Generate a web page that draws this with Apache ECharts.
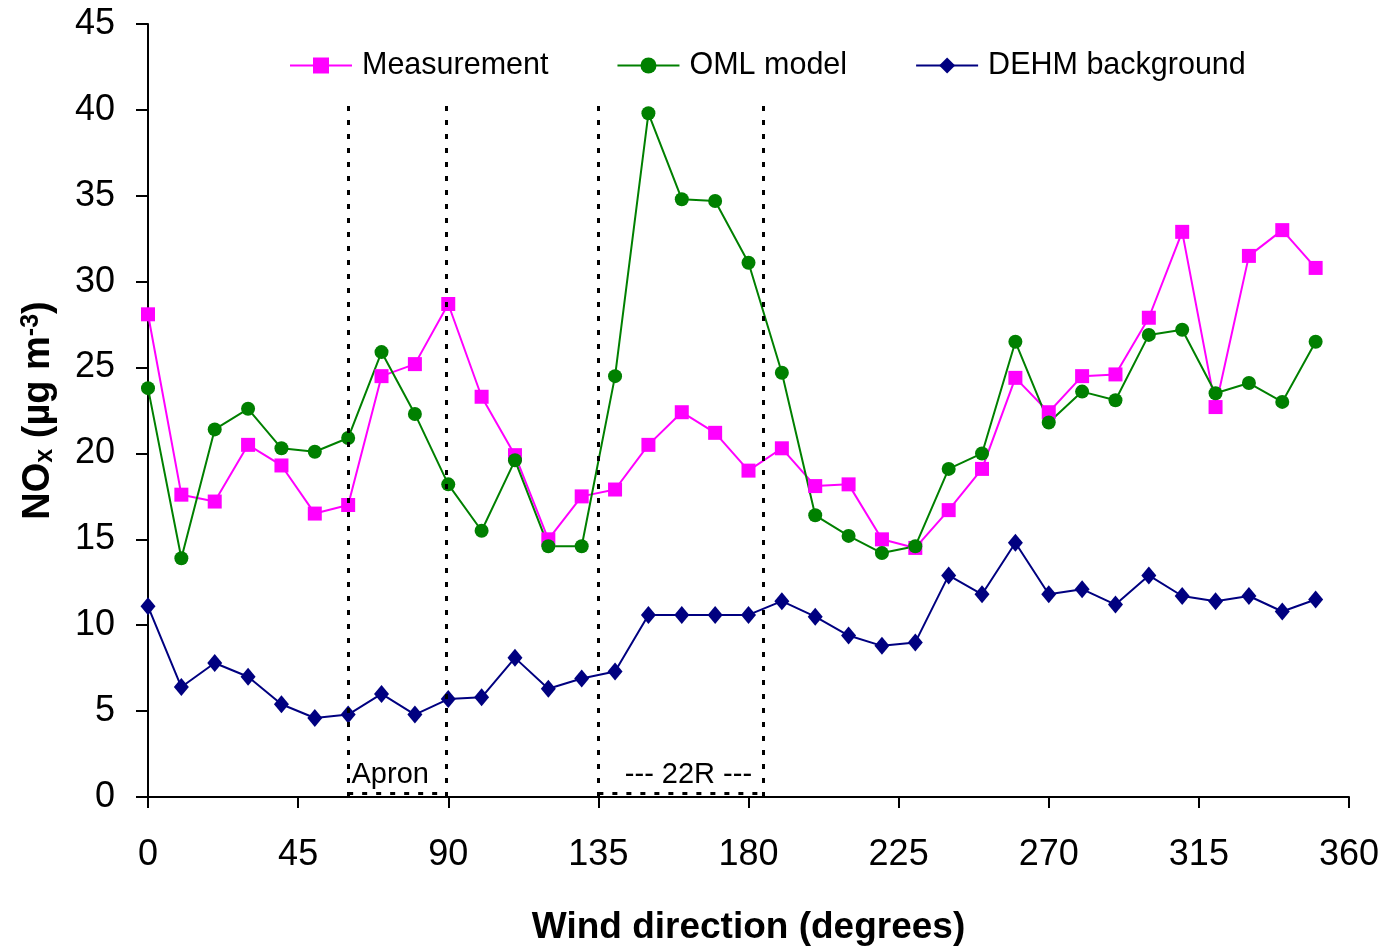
<!DOCTYPE html>
<html>
<head>
<meta charset="utf-8">
<script src="https://cdn.jsdelivr.net/npm/echarts@6/dist/echarts.min.js"></script>
<style>html,body{margin:0;padding:0;background:#fff}#c{width:1398px;height:950px}</style>
</head>
<body>
<div id="c"></div>
<script>
var directions = [0,10,20,30,40,50,60,70,80,90,100,110,120,130,140,150,160,170,180,190,200,210,220,230,240,250,260,270,280,290,300,310,320,330,340,350];
var measurement = [28.1,17.6,17.2,20.5,19.3,16.5,17.0,24.5,25.2,28.7,23.3,19.9,15.0,17.5,17.9,20.5,22.4,21.2,19.0,20.3,18.1,18.2,15.0,14.5,16.7,19.1,24.4,22.4,24.5,24.6,27.9,32.9,22.7,31.5,33.0,30.8];
var omlModel = [23.8,13.9,21.4,22.6,20.3,20.1,20.9,25.9,22.3,18.2,15.5,19.6,14.6,14.6,24.5,39.8,34.8,34.7,31.1,24.7,16.4,15.2,14.2,14.6,19.1,20.0,26.5,21.8,23.6,23.1,26.9,27.2,23.5,24.1,23.0,26.5];
var dehmBackground = [11.1,6.4,7.8,7.0,5.4,4.6,4.8,6.0,4.8,5.7,5.8,8.1,6.3,6.9,7.3,10.6,10.6,10.6,10.6,11.4,10.5,9.4,8.8,9.0,12.9,11.8,14.8,11.8,12.1,11.2,12.9,11.7,11.4,11.7,10.8,11.5];
var xTicks = [0,45,90,135,180,225,270,315,360];
var yTicks = [0,5,10,15,20,25,30,35,40,45];
// sector boundaries (wind direction) and annotation labels
var sectors = [[60, 89.5], [135, 184.5]];
var sectorTop = 40.3;
var sectorBase = 0.2;
var sectorLabels = [[61, 1.3, 'Apron', 'left'], [162, 1.3, '--- 22R ---', 'center']];

function pairs(xs, ys){ return xs.map(function(x,i){ return [x, ys[i]]; }); }

var lineSegs = [];
sectors.forEach(function(s){
  lineSegs.push([{coord:[s[0],0]},{coord:[s[0],sectorTop]}]);
  lineSegs.push([{coord:[s[1],0]},{coord:[s[1],sectorTop]}]);
  lineSegs.push([{coord:[s[0],sectorBase]},{coord:[s[1],sectorBase]}]);
});

var chart = echarts.init(document.getElementById('c'), null, {renderer:'canvas'});
var font = 'Liberation Sans, Arial, sans-serif';
chart.setOption({
  animation: false,
  textStyle: {fontFamily: font},
  grid: {left:148, right:49, top:24, bottom:153, containLabel:false, outerBoundsMode:'none'},
  legend: {
    data: ['Measurement','OML model','DEHM background'],
    left: 284, top: 45,
    itemWidth: 62, itemHeight: 20, itemGap: 68,
    textStyle: {fontSize: 30.5, color:'#000', fontFamily: font, padding:[0,0,0,5]}
  },
  xAxis: {
    type:'value', min:0, max:360, interval:45,
    name:'Wind direction (degrees)', nameLocation:'middle', nameGap:112,
    nameTextStyle:{fontSize:37, fontWeight:'bold', color:'#000', fontFamily:font},
    axisLine:{show:true, onZero:false, lineStyle:{color:'#000', width:2}},
    axisTick:{show:true, inside:false, length:11, lineStyle:{color:'#000', width:2}},
    axisLabel:{fontSize:36, color:'#000', margin:40, fontFamily:font,
      formatter:function(v){ return xTicks.indexOf(v) >= 0 ? String(v) : ''; }},
    splitLine:{show:false}
  },
  yAxis: {
    type:'value', min:0, max:45, interval:5,
    name:'{b|NO}{sub|x}{b| (µg m}{sup|-3}{b|)}', nameLocation:'middle', nameGap:90, nameRotate:90,
    nameTextStyle:{fontFamily:font, color:'#000', rich:{
      b:{fontSize:38, fontWeight:'bold', fontFamily:font, color:'#000'},
      sub:{fontSize:25, fontWeight:'bold', fontFamily:font, color:'#000', verticalAlign:'bottom', padding:[14,0,0,0]},
      sup:{fontSize:25, fontWeight:'bold', fontFamily:font, color:'#000', verticalAlign:'top', padding:[0,0,14,0]}
    }},
    axisLine:{show:true, lineStyle:{color:'#000', width:2}},
    axisTick:{show:true, inside:false, length:12, lineStyle:{color:'#000', width:2}},
    axisLabel:{fontSize:36, color:'#000', margin:33, fontFamily:font,
      formatter:function(v){ return yTicks.indexOf(v) >= 0 ? String(v) : ''; }},
    splitLine:{show:false}
  },
  series: [
    {
      name:'Measurement', type:'line', data: pairs(directions, measurement),
      symbol:'rect', symbolSize:14, showAllSymbol:true,
      lineStyle:{color:'#FF00FF', width:2}, itemStyle:{color:'#FF00FF'}
    },
    {
      name:'OML model', type:'line', data: pairs(directions, omlModel),
      symbol:'circle', symbolSize:14, showAllSymbol:true,
      lineStyle:{color:'#008000', width:2}, itemStyle:{color:'#008000'}
    },
    {
      name:'DEHM background', type:'line', data: pairs(directions, dehmBackground),
      symbol:'diamond', symbolSize:[15,18], showAllSymbol:true,
      lineStyle:{color:'#000080', width:2}, itemStyle:{color:'#000080'}
    },
    {
      name:'sectors', type:'line', data:[], silent:true,
      markLine:{
        silent:true, symbol:['none','none'], animation:false,
        lineStyle:{color:'#000', width:3, type:[5,9]},
        label:{show:false},
        data: lineSegs
      },
      markPoint:{
        silent:true, symbol:'circle', symbolSize:0,
        data: sectorLabels.map(function(l){
          return {coord:[l[0], l[1]], label:{show:true, formatter:l[2], align:l[3], position:'inside',
            fontSize:29, color:'#000', fontFamily:font}};
        })
      }
    }
  ]
});
</script>
</body>
</html>
